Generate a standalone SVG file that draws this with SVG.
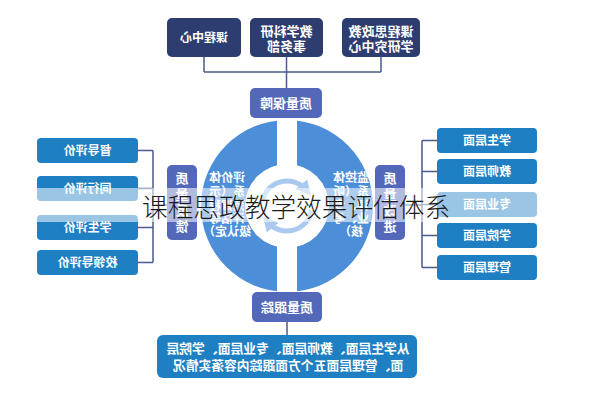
<svg xmlns="http://www.w3.org/2000/svg" width="593" height="400" viewBox="0 0 593 400">
<style>
.t{font-family:"Noto Sans CJK SC","Noto Sans",sans-serif;font-weight:700;fill:#fff;text-anchor:middle}
.navy{fill:#2d3d6f}
.peri{fill:#5468b9}
.lb{fill:#1f7fc3}
.ln{stroke:#4a5b8c;stroke-width:1.5;fill:none}
.arc{stroke:#a9c9ee;stroke-width:5;fill:none}
</style>
<defs>
<marker id="ah" viewBox="0 0 10 10" refX="5" refY="5" markerWidth="3" markerHeight="3" orient="auto"><path d="M0 0L10 5L0 10z" fill="#a9c9ee"/></marker>
</defs>
<rect width="593" height="400" fill="#fff"/>
<g id="connectors">
<path class="ln" d="M204 57V72M381 57V72M204 72H381M286.5 57V88M287 322V335"/>
<path class="ln" d="M138 150.5H153M138 188.5H153M138 227.5H153M138 262.5H153M153 150.5V262.5M153 205H167"/>
<path class="ln" d="M422 140.5V267.5M422 140.5H437M422 171.5H437M422 204.5H437M422 235.5H437M422 267.5H437M405 205H422"/>
</g>
<g id="top-boxes">
<g id="n-kczx"><rect class="navy" x="167" y="18" width="74" height="39" rx="5"/><text class="t" font-size="12" x="204" y="42" transform="matrix(-1 0 0 1 408 0)">课程中心</text></g>
<g id="n-jxky"><rect class="navy" x="250" y="18" width="73" height="39" rx="5"/><text class="t" font-size="13" x="286.5" y="36" transform="matrix(-1 0 0 1 573 0)">教学科研</text><text class="t" font-size="13" x="286.5" y="51" transform="matrix(-1 0 0 1 573 0)">事务部</text></g>
<g id="n-kcsz"><rect class="navy" x="342" y="18" width="78" height="39" rx="5"/><text class="t" font-size="13" x="381" y="36" transform="matrix(-1 0 0 1 762 0)">课程思政教</text><text class="t" font-size="13" x="381" y="51" transform="matrix(-1 0 0 1 762 0)">学研究中心</text></g>
</g>
<g id="wheel">
<circle cx="287" cy="206" r="86" fill="#4d8ed9"/>
<rect x="277" y="115" width="20" height="182" fill="#fff"/>
<circle cx="287" cy="206" r="42" fill="#fff"/>
<path class="arc" d="M262.4 201.7A25 25 0 0 1 306.2 189.9" marker-end="url(#ah)"/>
<path class="arc" d="M311.6 210.3A25 25 0 0 1 267.8 222.1" marker-end="url(#ah)"/>
<g id="n-pj">
<text class="t" font-size="12" x="227" y="182" transform="matrix(-1 0 0 1 454 0)">评价体</text>
<text class="t" font-size="12" x="227" y="196" transform="matrix(-1 0 0 1 454 0)">系（示</text>
<text class="t" font-size="12" x="227" y="210" transform="matrix(-1 0 0 1 454 0)">范课程</text>
<text class="t" font-size="12" x="227" y="223" transform="matrix(-1 0 0 1 454 0)">评估等</text>
<text class="t" font-size="12" x="227" y="236" transform="matrix(-1 0 0 1 454 0)">级认定）</text>
</g>
<g id="n-jk">
<text class="t" font-size="12" x="351" y="182" transform="matrix(-1 0 0 1 702 0)">监控体</text>
<text class="t" font-size="12" x="351" y="196" transform="matrix(-1 0 0 1 702 0)">系（听</text>
<text class="t" font-size="12" x="351" y="210" transform="matrix(-1 0 0 1 702 0)">课、专</text>
<text class="t" font-size="12" x="351" y="223" transform="matrix(-1 0 0 1 702 0)">业、考</text>
<text class="t" font-size="12" x="351" y="236" transform="matrix(-1 0 0 1 702 0)">核）</text>
</g>
</g>
<g id="n-zlbz"><rect class="peri" x="250" y="88" width="72" height="30" rx="5"/><text class="t" font-size="13" x="286" y="108" transform="matrix(-1 0 0 1 572 0)">质量保障</text></g>
<g id="n-zlgz"><rect class="peri" x="252" y="292" width="70" height="30" rx="5"/><text class="t" font-size="13" x="287" y="312" transform="matrix(-1 0 0 1 574 0)">质量跟踪</text></g>
<g id="n-zlfk"><rect class="peri" x="167" y="165" width="30" height="75" rx="5"/>
<text class="t" font-size="13" x="182" y="183" transform="matrix(-1 0 0 1 364 0)">质</text>
<text class="t" font-size="13" x="182" y="199" transform="matrix(-1 0 0 1 364 0)">量</text>
<text class="t" font-size="13" x="182" y="215" transform="matrix(-1 0 0 1 364 0)">反</text>
<text class="t" font-size="13" x="182" y="231" transform="matrix(-1 0 0 1 364 0)">馈</text></g>
<g id="n-zlgj"><rect class="peri" x="375" y="165" width="30" height="75" rx="5"/>
<text class="t" font-size="13" x="390" y="183" transform="matrix(-1 0 0 1 780 0)">质</text>
<text class="t" font-size="13" x="390" y="199" transform="matrix(-1 0 0 1 780 0)">量</text>
<text class="t" font-size="13" x="390" y="215" transform="matrix(-1 0 0 1 780 0)">改</text>
<text class="t" font-size="13" x="390" y="231" transform="matrix(-1 0 0 1 780 0)">进</text></g>
<g id="left-list">
<g id="n-ddpj"><rect class="lb" x="37" y="138" width="101" height="25" rx="4"/><text class="t" font-size="12" x="87.5" y="155" transform="matrix(-1 0 0 1 175 0)">督导评价</text></g>
<g id="n-thpj"><rect class="lb" x="37" y="176" width="101" height="25" rx="4"/><text class="t" font-size="12" x="87.5" y="193" transform="matrix(-1 0 0 1 175 0)">同行评价</text></g>
<g id="n-xspj"><rect class="lb" x="37" y="215" width="101" height="25" rx="4"/><text class="t" font-size="12" x="87.5" y="232" transform="matrix(-1 0 0 1 175 0)">学生评价</text></g>
<g id="n-xldpj"><rect class="lb" x="37" y="250" width="101" height="25" rx="4"/><text class="t" font-size="12" x="87.5" y="267" transform="matrix(-1 0 0 1 175 0)">校领导评价</text></g>
</g>
<g id="right-list">
<g id="n-xscm"><rect class="lb" x="437" y="128" width="100" height="25" rx="4"/><text class="t" font-size="12" x="487" y="145" transform="matrix(-1 0 0 1 974 0)">学生层面</text></g>
<g id="n-jscm"><rect class="lb" x="437" y="159" width="100" height="25" rx="4"/><text class="t" font-size="12" x="487" y="176" transform="matrix(-1 0 0 1 974 0)">教师层面</text></g>
<g id="n-zycm"><rect class="lb" x="437" y="192" width="100" height="25" rx="4"/><text class="t" font-size="12" x="487" y="209" transform="matrix(-1 0 0 1 974 0)">专业层面</text></g>
<g id="n-xycm"><rect class="lb" x="437" y="223" width="100" height="25" rx="4"/><text class="t" font-size="12" x="487" y="240" transform="matrix(-1 0 0 1 974 0)">学院层面</text></g>
<g id="n-glcm"><rect class="lb" x="437" y="255" width="100" height="25" rx="4"/><text class="t" font-size="12" x="487" y="272" transform="matrix(-1 0 0 1 974 0)">管理层面</text></g>
</g>
<g id="n-desc"><rect class="lb" x="157" y="335" width="260" height="43" rx="6"/>
<text class="t" font-size="12.8" x="288" y="353" transform="matrix(-1 0 0 1 576 0)">从学生层面、教师层面、专业层面、学院层</text>
<text class="t" font-size="12.8" x="288" y="370" transform="matrix(-1 0 0 1 576 0)">面、管理层面五个方面跟踪内容落实情况</text></g>
<g id="title">
<rect x="0" y="188" width="593" height="34" fill="#fff" fill-opacity="0.55"/>
<text x="142" y="217" font-family="Noto Sans CJK SC, sans-serif" font-weight="300" font-size="25.7" fill="#1a1a1a">课程思政教学效果评估体系</text>
</g>
</svg>
